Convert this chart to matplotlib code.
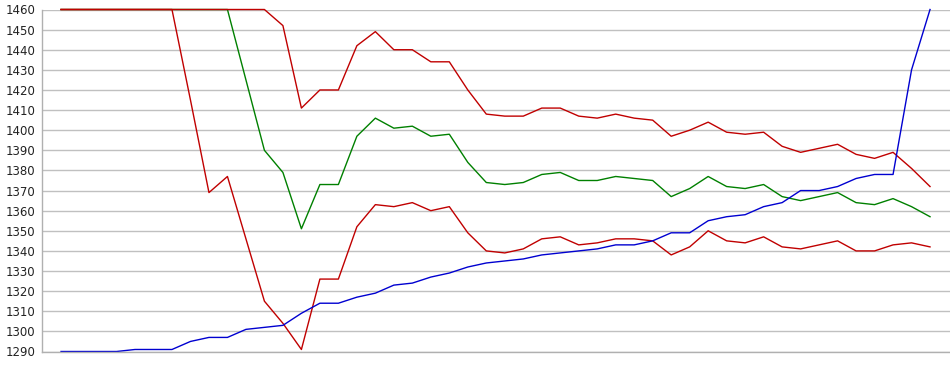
import numpy as np
import matplotlib
matplotlib.use("Agg")
import matplotlib.pyplot as plt

# -----------------------------------------------------------
# data (48 points per series)
# -----------------------------------------------------------
upper_red = [1460, 1460, 1460, 1460, 1460, 1460, 1460, 1460, 1460, 1460,
             1460, 1460, 1452, 1411, 1420, 1420, 1442, 1449, 1440, 1440,
             1434, 1434, 1420, 1408, 1407, 1407, 1411, 1411, 1407, 1406,
             1408, 1406, 1405, 1397, 1400, 1404, 1399, 1398, 1399, 1392,
             1389, 1391, 1393, 1388, 1386, 1389, 1381, 1372]

middle_green = [1460, 1460, 1460, 1460, 1460, 1460, 1460, 1460, 1460, 1460,
                1425, 1390, 1379, 1351, 1373, 1373, 1397, 1406, 1401, 1402,
                1397, 1398, 1384, 1374, 1373, 1374, 1378, 1379, 1375, 1375,
                1377, 1376, 1375, 1367, 1371, 1377, 1372, 1371, 1373, 1367,
                1365, 1367, 1369, 1364, 1363, 1366, 1362, 1357]

lower_red = [1460, 1460, 1460, 1460, 1460, 1460, 1460, 1415, 1369, 1377,
             1346, 1315, 1304, 1291, 1326, 1326, 1352, 1363, 1362, 1364,
             1360, 1362, 1349, 1340, 1339, 1341, 1346, 1347, 1343, 1344,
             1346, 1346, 1345, 1338, 1342, 1350, 1345, 1344, 1347, 1342,
             1341, 1343, 1345, 1340, 1340, 1343, 1344, 1342]

blue = [1290, 1290, 1290, 1290, 1291, 1291, 1291, 1295, 1297, 1297,
        1301, 1302, 1303, 1309, 1314, 1314, 1317, 1319, 1323, 1324,
        1327, 1329, 1332, 1334, 1335, 1336, 1338, 1339, 1340, 1341,
        1343, 1343, 1345, 1349, 1349, 1355, 1357, 1358, 1362, 1364,
        1370, 1370, 1372, 1376, 1378, 1378, 1430, 1460]

y_ticks = list(range(1290, 1461, 10))

x = np.arange(len(blue))

# -----------------------------------------------------------
# plot
# -----------------------------------------------------------
fig = plt.figure(figsize=(9.5, 3.75), dpi=100)
ax = fig.add_axes([42 / 950, 23.5 / 375, 908 / 950, 342 / 375])

ax.plot(x, middle_green, color="#008000", lw=1.0, clip_on=False)
ax.plot(x, lower_red, color="#c00000", lw=1.0, clip_on=False)
ax.plot(x, upper_red, color="#c00000", lw=1.0, clip_on=False)
ax.plot(x, blue, color="#0000d0", lw=1.0, clip_on=False)

ax.set_xlim(-1.03, 48.08)
ax.set_ylim(1290, 1460)
ax.set_yticks(y_ticks)
ax.set_xticks([])
ax.yaxis.grid(True, color="#c0c0c0", lw=1.0)
ax.set_axisbelow(True)

for side in ["top", "right"]:
    ax.spines[side].set_visible(False)
for side in ["left", "bottom"]:
    ax.spines[side].set_color("#b0b0b0")
    ax.spines[side].set_linewidth(1.0)

ax.tick_params(axis="y", length=0, pad=5, labelsize=8.5, labelcolor="#222222")

fig.savefig("out.png", dpi=100)
